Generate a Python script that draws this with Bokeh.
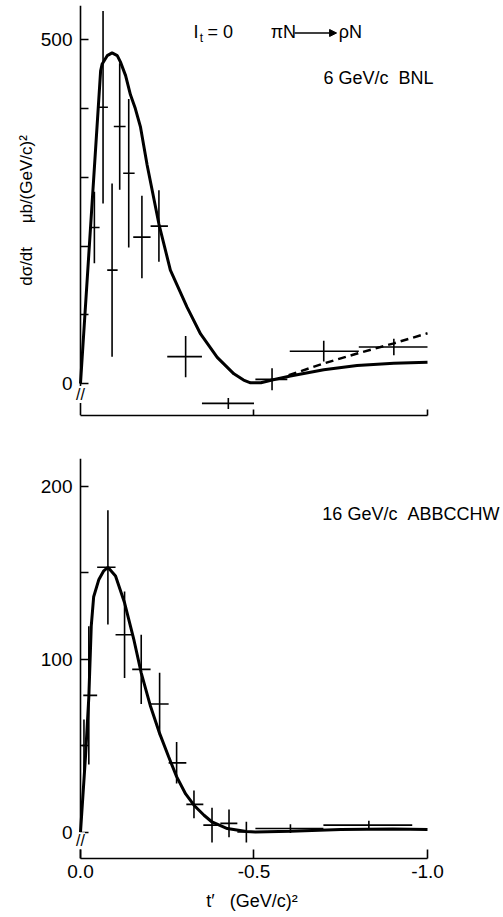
import numpy as np
from bokeh.plotting import figure
from bokeh.layouts import column
from bokeh.models import (Range1d, FixedTicker, Label, Arrow, NormalHead,
                          NumeralTickFormatter, LinearAxis)
from bokeh.embed import file_html
from bokeh.resources import INLINE

FONT = "Liberation Sans"
NB = "\u00a0"

# ---------------- top panel: 6 GeV/c BNL ----------------
top_t = [-0.040, -0.065, -0.091, -0.113, -0.139, -0.177, -0.226, -0.303, -0.426, -0.552, -0.701, -0.903]
top_v = [227, 402, 165, 374, 306, 213, 229, 39, -29, 6, 47, 53]
top_err = [52, 140, 126, 92, 108, 60, 52, 30, 8, 16, 15, 12]
top_tlo = [-0.028, -0.053, -0.077, -0.096, -0.123, -0.152, -0.202, -0.250, -0.350, -0.504, -0.603, -0.802]
top_thi = [-0.055, -0.079, -0.107, -0.130, -0.156, -0.202, -0.252, -0.350, -0.500, -0.596, -0.802, -1.000]

top_curve_t = [0.0, -0.058, -0.0625, -0.077, -0.091, -0.106, -0.115, -0.130, -0.144, -0.158, -0.173,
               -0.192, -0.226, -0.259, -0.307, -0.346, -0.394, -0.442, -0.470, -0.490, -0.520,
               -0.552, -0.605, -0.701, -0.797, -0.903, -1.0]
top_curve_v = [0, 455, 465, 477, 481, 477, 468, 448, 420, 400, 373,
               318, 232, 165, 111, 72, 38, 14, 5, 1, 1,
               5, 11, 20, 26, 29.5, 31]

top_dash_t = [-0.60, -0.70, -0.80, -0.90, -1.0]
top_dash_v = [12, 29, 44, 58, 73]

top_yticks = [0, 500]
top_yticks_all = [0, 100, 200, 300, 400, 500]

# ---------------- bottom panel: 16 GeV/c ABBCCHW ----------------
bot_t = [-0.010, -0.024, -0.079, -0.127, -0.175, -0.228, -0.277, -0.327, -0.379, -0.428, -0.478, -0.605, -0.831]
bot_v = [50, 79, 153, 114, 94, 74, 40, 16, 4, 5, 0, 2, 4]
bot_err = [15, 40, 33, 25, 20, 18, 12, 8, 10, 8, 6, 2.5, 2.5]
bot_tlo = [-0.004, -0.008, -0.048, -0.101, -0.149, -0.202, -0.254, -0.305, -0.354, -0.403, -0.452, -0.504, -0.700]
bot_thi = [-0.016, -0.048, -0.101, -0.149, -0.202, -0.254, -0.305, -0.354, -0.403, -0.452, -0.504, -0.700, -0.956]

bot_curve_t = [0.0, -0.0144, -0.024, -0.031, -0.038, -0.053, -0.067, -0.079, -0.101, -0.127, -0.154,
               -0.175, -0.202, -0.228, -0.254, -0.277, -0.303, -0.327, -0.356, -0.379, -0.423,
               -0.478, -0.504, -0.605, -0.75, -0.90, -1.0]
bot_curve_v = [0, 43.5, 78, 119, 136, 146, 151, 153, 148, 132.5, 111,
               92, 72.5, 57, 43.5, 32, 22, 15.5, 9.7, 5.8, 2,
               0.3, 0, 0.5, 1.5, 1.8, 1.5]

bot_yticks = [0, 100, 200]
bot_yticks_all = [0, 50, 100, 150, 200]

x_ticks = [0.0, -0.5, -1.0]

X_START, X_END = 0.0288, -1.219   # frame widened so that texts and axis breaks are not clipped


def style_axis(ax):
    ax.axis_line_width = 1.6
    ax.axis_line_color = "black"
    ax.major_tick_line_width = 1.6
    ax.minor_tick_line_width = 1.6
    ax.major_tick_out = 0
    ax.minor_tick_out = 0
    ax.major_label_text_font = FONT
    ax.major_label_text_font_size = "19px"
    ax.major_label_text_color = "black"
    ax.axis_label_text_font = FONT
    ax.axis_label_text_font_style = "normal"
    ax.axis_label_text_color = "black"


def make_fig(height, ymin, ymax, btop, bbottom, yticks, yticks_all):
    p = figure(width=503, height=height,
               x_range=Range1d(X_START, X_END), y_range=Range1d(ymin, ymax),
               output_backend="svg", toolbar_location=None,
               min_border_left=70, min_border_right=0,
               min_border_top=btop, min_border_bottom=bbottom)
    p.grid.visible = False
    p.outline_line_color = None
    style_axis(p.xaxis[0])
    style_axis(p.yaxis[0])
    # left axis at the frame edge: carries only the tick labels and the title
    p.yaxis.ticker = FixedTicker(ticks=yticks, minor_ticks=[])
    p.yaxis.axis_line_color = None
    p.yaxis.major_tick_in = 0
    p.yaxis.major_label_standoff = -2
    # axis line and inward ticks at t' = 0
    line_ax = LinearAxis(fixed_location=0, ticker=FixedTicker(ticks=[], minor_ticks=yticks_all))
    style_axis(line_ax)
    line_ax.minor_tick_in = 8
    p.add_layout(line_ax, "left")
    p.xaxis.bounds = (-1.0, 0.0)
    p.xaxis.major_tick_in = 9
    p.xaxis.minor_tick_in = 6
    return p


def draw(p, t, v, err, tlo, thi, ct, cv):
    t = np.array(t); v = np.array(v); err = np.array(err)
    p.segment(x0=t, y0=v - err, x1=t, y1=v + err, line_color="black", line_width=1.6)
    p.segment(x0=np.array(tlo), y0=v, x1=np.array(thi), y1=v, line_color="black", line_width=1.6)
    p.line(ct, cv, line_color="black", line_width=3)


lab = dict(text_font=FONT, text_font_size="18px", text_color="black", text_baseline="middle")
brk = dict(text="//", text_font=FONT, text_font_size="16px", text_color="black",
           text_align="center", text_baseline="middle", background_fill_color="white")

# ---- top figure ----
p1 = make_fig(440, -46.6, 550, 5, 25, top_yticks, top_yticks_all)
p1.yaxis[0].axis_label = "dσ/dt" + NB * 5 + "μb/(GeV/c)²"
p1.yaxis[0].axis_label_text_font_size = "17px"
p1.yaxis[0].axis_label_standoff = 2
p1.xaxis.ticker = FixedTicker(ticks=[], minor_ticks=x_ticks[1:])
draw(p1, top_t, top_v, top_err, top_tlo, top_thi, top_curve_t, top_curve_v)
p1.line(top_dash_t, top_dash_v, line_color="black", line_width=2.5, line_dash="8 5")

p1.add_layout(Label(x=-0.326, y=512, text="I", **lab))
p1.add_layout(Label(x=-0.344, y=502, text="t", text_font=FONT, text_font_size="12px",
                    text_color="black", text_baseline="middle"))
p1.add_layout(Label(x=-0.366, y=512, text="= 0", **lab))
p1.add_layout(Label(x=-0.548, y=512, text="πN", **lab))
p1.add_layout(Arrow(x_start=-0.617, y_start=510, x_end=-0.738, y_end=510, line_width=1.3,
                    end=NormalHead(size=7, fill_color="black", line_color="black")))
p1.add_layout(Label(x=-0.744, y=512, text="ρN", **lab))
p1.add_layout(Label(x=-0.700, y=445, text="6 GeV/c" + NB * 2 + "BNL", **lab))
p1.add_layout(Label(x=0, y=-16, **brk))

# ---- bottom figure ----
p2 = make_fig(477, -15.3, 215.9, 18, 59, bot_yticks, bot_yticks_all)
p2.xaxis.ticker = FixedTicker(ticks=x_ticks, minor_ticks=[])
p2.xaxis.formatter = NumeralTickFormatter(format="0.0")
p2.xaxis.major_label_standoff = 6
# trailing spaces shift the centred title to the middle of the drawn axis
p2.xaxis.axis_label = "t′" + NB * 3 + "(GeV/c)²" + NB * 14
p2.xaxis.axis_label_text_font_size = "18px"
p2.xaxis.axis_label_standoff = 10
draw(p2, bot_t, bot_v, bot_err, bot_tlo, bot_thi, bot_curve_t, bot_curve_v)
p2.add_layout(Label(x=-0.697, y=183.7, text="16 GeV/c" + NB * 2 + "ABBCCHW", **lab))
p2.add_layout(Label(x=0, y=-5, **brk))

layout = column(p1, p2, spacing=0)
open("out.html", "w").write(file_html(layout, INLINE))
